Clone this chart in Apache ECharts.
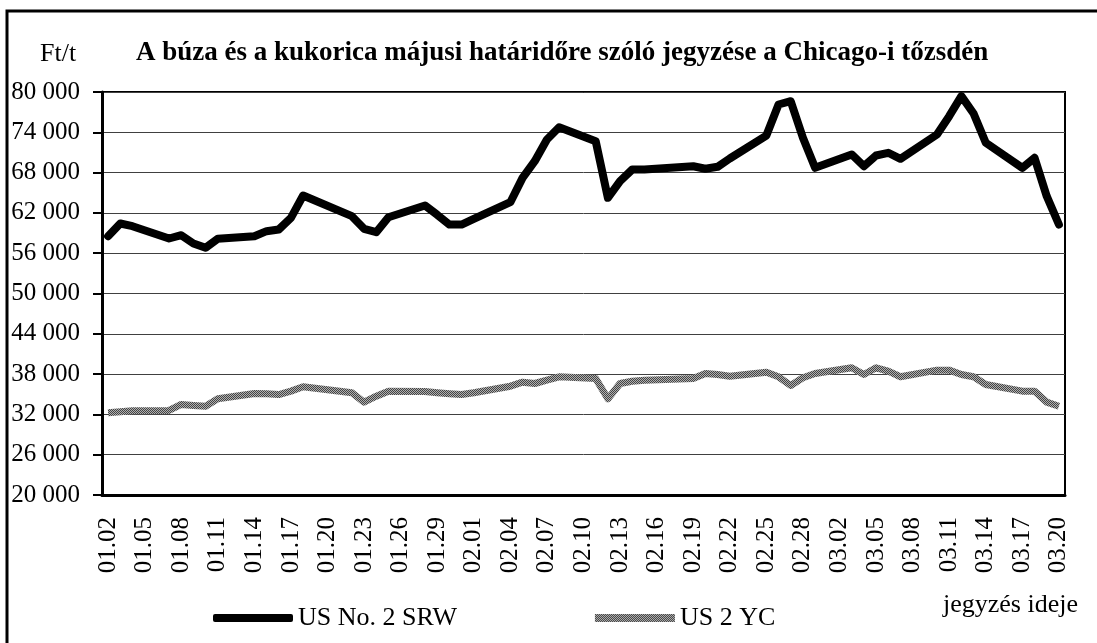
<!doctype html>
<html>
<head>
<meta charset="utf-8">
<style>
html, body { margin: 0; padding: 0; background: #fff; }
#chart { width: 1097px; height: 643px; }
</style>
</head>
<body>
<div id="chart"></div>
<script src="https://cdn.jsdelivr.net/npm/echarts@6/dist/echarts.min.js"></script>
<script>
// jegyzés napjai (2008.01.02 - 03.20, naptári napok)
var dates = [
	'01.02','01.03','01.04','01.05','01.06','01.07','01.08','01.09','01.10','01.11',
	'01.12','01.13','01.14','01.15','01.16','01.17','01.18','01.19','01.20','01.21',
	'01.22','01.23','01.24','01.25','01.26','01.27','01.28','01.29','01.30','01.31',
	'02.01','02.02','02.03','02.04','02.05','02.06','02.07','02.08','02.09','02.10',
	'02.11','02.12','02.13','02.14','02.15','02.16','02.17','02.18','02.19','02.20',
	'02.21','02.22','02.23','02.24','02.25','02.26','02.27','02.28','02.29','03.01',
	'03.02','03.03','03.04','03.05','03.06','03.07','03.08','03.09','03.10','03.11',
	'03.12','03.13','03.14','03.15','03.16','03.17','03.18','03.19','03.20'
];
// US No. 2 SRW (búza), Ft/t
var wheat = [
	58530, 60420, 60020, null, null, 58190, 58680, 57450, 56800, 58150,
	null, null, 58530, 59280, 59530, 61270, 64590, null, null, null,
	61510, 59630, 59130, 61360, null, null, 63100, 61720, 60270, 60270,
	61120, null, null, 63590, 67220, 69700, 72930, 74760, null, null,
	72680, 64250, 66720, 68460, 68460, null, null, null, 68950, 68570,
	68860, 70100, null, null, 73520, 78140, 78630, 73180, 68710, null,
	null, 70700, 68950, 70550, 70950, 70050, null, null, 73670, 76400,
	79380, 76800, 72440, null, null, 68710, 70200, 64490, 60270
];
// US 2 YC (kukorica), Ft/t
var corn = [
	32240, 32390, 32540, null, null, 32590, 33480, 33330, 33220, 34320,
	null, null, 35110, 35070, 34960, 35460, 36110, null, null, null,
	35220, 33820, 34710, 35460, null, null, 35400, 35220, 35070, 34960,
	35220, null, null, 36200, 36800, 36600, 37090, 37600, null, null,
	37350, 34320, 36600, 36940, 37090, null, null, null, 37350, 38090,
	37940, 37690, null, null, 38280, 37600, 36300, 37450, 38090, null,
	null, 38940, 37940, 38940, 38440, 37600, null, null, 38590, 38590,
	37940, 37600, 36450, null, null, 35460, 35460, 33820, 33220
];
var yMin = 20000, yMax = 80000, yStep = 6000;

var serif = "'Liberation Serif', 'Times New Roman', serif";

// pontozott szürke minta a kukorica vonalához
var pc = document.createElement('canvas');
pc.width = 2; pc.height = 2;
var pctx = pc.getContext('2d');
pctx.fillStyle = '#b0b0b0';
pctx.fillRect(0, 0, 2, 2);
pctx.fillStyle = '#444';
pctx.fillRect(0, 0, 1, 1);
pctx.fillRect(1, 1, 1, 1);
var grayPattern = { image: pc, repeat: 'repeat' };

var myChart = echarts.init(document.getElementById('chart'));
var option = {
	backgroundColor: '#fff',
	animation: false,
	title: {
		text: 'A búza és a kukorica májusi határidőre szóló jegyzése a Chicago-i tőzsdén',
		left: 136,
		top: 40,
		padding: 0,
		textStyle: { fontFamily: serif, fontSize: 27, fontWeight: 'bold', color: '#000' }
	},
	graphic: [
		{ type: 'rect', shape: { x: 7, y: 11, width: 1200, height: 800 }, style: { fill: 'none', stroke: '#000', lineWidth: 3 }, silent: true },
		{ type: 'text', left: 40, top: 41, style: { text: 'Ft/t', fontFamily: serif, fontSize: 26, fill: '#000' } },
		{ type: 'text', left: 943, top: 592, style: { text: 'jegyzés ideje', fontFamily: serif, fontSize: 26, fill: '#000' } }
	],
	legend: {
		left: 213,
		top: 605,
		itemWidth: 80,
		itemHeight: 8,
		itemGap: 138,
		padding: 0,
		textStyle: { fontFamily: serif, fontSize: 26, color: '#000' },
		data: [
			{ name: 'US No. 2 SRW', icon: 'roundRect' },
			{ name: 'US 2 YC', icon: 'rect' }
		]
	},
	grid: {
		left: 102,
		right: 32,
		top: 92,
		bottom: 148,
		show: true,
		borderColor: '#000',
		borderWidth: 2,
		backgroundColor: 'transparent'
	},
	xAxis: {
		type: 'category',
		data: dates,
		axisLine: { lineStyle: { color: '#000', width: 3 } },
		axisTick: { interval: 2, length: 8, lineStyle: { color: '#000', width: 2 } },
		axisLabel: {
			interval: 2,
			rotate: 90,
			margin: 22,
			fontFamily: serif,
			fontSize: 25,
			color: '#000'
		},
		splitLine: { show: false }
	},
	yAxis: {
		type: 'value',
		min: yMin,
		max: yMax,
		interval: yStep,
		axisLine: { show: true, lineStyle: { color: '#000', width: 3 } },
		axisTick: { show: true, length: 9, lineStyle: { color: '#000', width: 2 } },
		axisLabel: {
			margin: 22,
			fontFamily: serif,
			fontSize: 25,
			color: '#000',
			padding: [8, 0, 0, 0],
			formatter: function(value) {
				return (value / 1000) + ' 000';
			}
		},
		splitLine: { show: true, lineStyle: { color: '#404040', width: 1 } }
	},
	series: [
		{
			name: 'US No. 2 SRW',
			type: 'line',
			data: wheat,
			connectNulls: true,
			symbol: 'none',
			color: '#000',
			lineStyle: { color: '#000', width: 8, cap: 'round', join: 'round' },
			z: 3
		},
		{
			name: 'US 2 YC',
			type: 'line',
			data: corn,
			connectNulls: true,
			symbol: 'none',
			color: grayPattern,
			itemStyle: { color: grayPattern },
			lineStyle: { color: grayPattern, width: 7, join: 'round' },
			z: 2
		}
	]
};
myChart.setOption(option);
</script>
</body>
</html>
